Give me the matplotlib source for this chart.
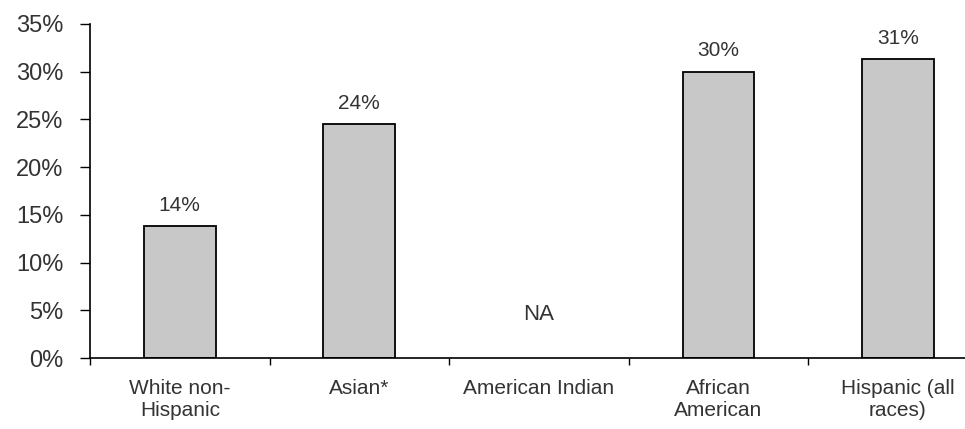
import matplotlib.pyplot as plt
import numpy as np

plt.rcParams['font.family'] = ['Liberation Sans', 'DejaVu Sans']

# Share of each group, in percent (None = not available)
groups = ['White non-\nHispanic', 'Asian*', 'American Indian', 'African\nAmerican', 'Hispanic (all\nraces)']
shares = [13.8, 24.5, None, 30.0, 31.3]
share_labels = ['14%', '24%', 'NA', '30%', '31%']

fig = plt.figure(figsize=(9.65, 4.29), dpi=100)
ax = fig.add_axes([0.0933, 0.1655, 0.907, 0.779])

x = np.arange(len(groups)) + 0.5
for xi, v in zip(x, shares):
    if v is not None:
        ax.bar(xi, v, width=0.4, color='#c8c8c8', edgecolor='black', linewidth=1.3)

# value labels above the bars, NA placed low in its slot
for xi, v, lab in zip(x, shares, share_labels):
    if v is None:
        ax.text(xi, 4.6, lab, ha='center', va='center', fontsize=16, color='#333333')
    else:
        ax.text(xi, v + 1.6, lab, ha='center', va='baseline', fontsize=15,
                color='#333333')

ax.set_xlim(0, 4.875)
ax.set_ylim(0, 35)
ax.set_yticks(np.arange(0, 36, 5))
ax.set_yticklabels([f'{t}%' for t in range(0, 36, 5)], fontsize=17, color='#333333')

# category boundaries get the ticks, names sit between them
ax.set_xticks(np.arange(0, 5))
ax.set_xticklabels([])
ax.set_xticks(x, minor=True)
ax.set_xticklabels(groups, minor=True, fontsize=15, color='#333333', va='top')
ax.tick_params(axis='x', which='major', direction='out', length=5, width=1)
ax.tick_params(axis='x', which='minor', length=0, pad=15)
ax.tick_params(axis='y', direction='out', length=7, width=1, pad=12)

for side in ['top', 'right']:
    ax.spines[side].set_visible(False)
ax.spines['left'].set_linewidth(1.2)
ax.spines['bottom'].set_linewidth(1.2)

fig.savefig('out.png', dpi=100)
